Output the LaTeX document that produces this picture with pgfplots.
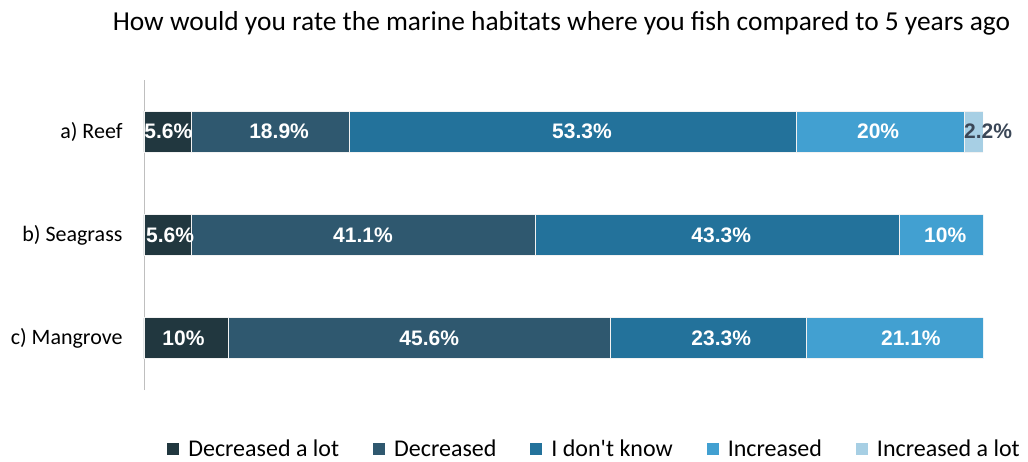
\documentclass[border=0pt]{standalone}
\usepackage{fontspec}
\setmainfont{Carlito}
\newfontfamily\arialfont{Liberation Sans}
\usepackage{pgfplots}
\pgfplotsset{compat=1.18}
\definecolor{c1}{HTML}{21373F}
\definecolor{c2}{HTML}{2F586F}
\definecolor{c3}{HTML}{23729B}
\definecolor{c4}{HTML}{42A0D1}
\definecolor{c5}{HTML}{A7CFE4}
\definecolor{lbldark}{HTML}{3B4757}
\definecolor{axgray}{HTML}{BFBFBF}
\begin{document}
\begin{tikzpicture}[x=1pt,y=1pt]
\useasboundingbox (0,0) rectangle (1028,461);
\node[font=\fontsize{27.4}{32}\selectfont, anchor=center] at (561.5,438) {How would you rate the marine habitats where you fish compared to 5 years ago};
\pgfplotsset{base/.style={scale only axis, width=839pt, height=310pt,
  xmin=0, xmax=100, ymin=-0.5, ymax=2.5, at={(144pt,71pt)}, anchor=south west}}
\begin{axis}[base, xbar stacked, bar width=41pt,
  axis y line*=left, axis x line=none,
  y axis line style={draw=axgray, line width=0.8pt},
  ytick={0,1,2}, yticklabels={c) Mangrove, b) Seagrass, a) Reef},
  major tick length=0pt,
  yticklabel style={font=\fontsize{22}{26}\selectfont, xshift=-18pt},
  xtick=\empty,
  legend columns=5,
  legend style={at={(0.537,-0.189)}, anchor=center, draw=none,
    font=\fontsize{24}{28}\selectfont,
    /tikz/every odd column/.append style={column sep=7pt},
    /tikz/every even column/.append style={column sep=32pt}},
  legend image code/.code={\fill[#1,draw=none] (0pt,-6pt) rectangle (12pt,6pt);},
  every axis plot/.append style={draw=white!90!gray, line width=0.8pt},
]
\addplot[fill=c1] coordinates {(5.6,2) (5.6,1) (10,0)};
\addplot[fill=c2] coordinates {(18.9,2) (41.1,1) (45.6,0)};
\addplot[fill=c3] coordinates {(53.3,2) (43.3,1) (23.3,0)};
\addplot[fill=c4] coordinates {(20,2) (10,1) (21.1,0)};
\addplot[fill=c5] coordinates {(2.2,2)};
\legend{Decreased a lot, Decreased, I don\textquotesingle t know, Increased, Increased a lot}
\end{axis}
\begin{axis}[base, hide axis, clip=false,
  nodes near coords, point meta=explicit symbolic,
  every node near coord/.style={anchor=center, text=white, font=\arialfont\bfseries\fontsize{21}{24}\selectfont}]
\addplot[draw=none, mark=none] coordinates {
 (2.9,2) [5.6\%] (16.1,2) [18.9\%] (52.2,2) [53.3\%] (87.5,2) [20\%]
 (3.1,1) [5.6\%] (26.1,1) [41.1\%] (68.8,1) [43.3\%] (95.5,1) [10\%]
 (4.7,0) [10\%] (34.0,0) [45.6\%] (68.8,0) [23.3\%] (91.4,0) [21.1\%]};
\addplot[draw=none, mark=none, every node near coord/.append style={text=lbldark}] coordinates {(100.6,2) [2.2\%]};
\end{axis}
\end{tikzpicture}
\end{document}
